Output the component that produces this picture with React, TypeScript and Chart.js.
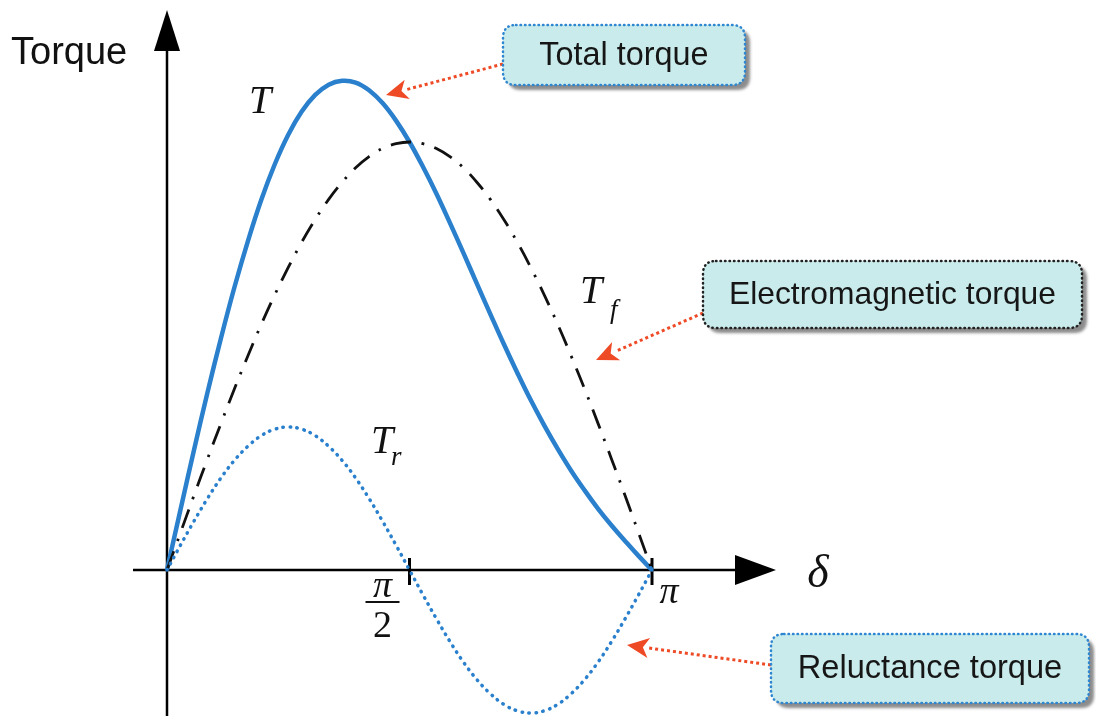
import React, { useEffect, useRef } from "react";
import { Chart, registerables } from "chart.js";

Chart.register(...registerables);

// load angle δ in degrees (0 … π)
const deltaDeg = [
  0, 5, 10, 15, 20, 25, 30, 35, 40, 45, 50, 55, 60, 65, 70, 75, 80, 85, 90,
  95, 100, 105, 110, 115, 120, 125, 130, 135, 140, 145, 150, 155, 160, 165, 170, 175, 180,
];
// total torque T
const totalTorque = [
  0, 0.141, 0.28, 0.414, 0.541, 0.66, 0.768, 0.865, 0.948, 1.017, 1.071, 1.11, 1.134, 1.143, 1.139, 1.121, 1.091, 1.05, 1.0,
  0.942, 0.879, 0.811, 0.741, 0.669, 0.598, 0.528, 0.461, 0.397, 0.338, 0.283, 0.232, 0.186, 0.143, 0.104, 0.068, 0.033, 0,
];
// electromagnetic (field) torque Tf
const fieldTorque = [
  0, 0.087, 0.174, 0.259, 0.342, 0.423, 0.5, 0.574, 0.643, 0.707, 0.766, 0.819, 0.866, 0.906, 0.94, 0.966, 0.985, 0.996, 1.0,
  0.996, 0.985, 0.966, 0.94, 0.906, 0.866, 0.819, 0.766, 0.707, 0.643, 0.574, 0.5, 0.423, 0.342, 0.259, 0.174, 0.087, 0,
];
// reluctance torque Tr
const reluctanceTorque = [
  0, 0.058, 0.114, 0.167, 0.215, 0.256, 0.289, 0.314, 0.329, 0.334, 0.329, 0.314, 0.289, 0.256, 0.215, 0.167, 0.114, 0.058, 0,
  -0.058, -0.114, -0.167, -0.215, -0.256, -0.289, -0.314, -0.329, -0.334, -0.329, -0.314, -0.289, -0.256, -0.215, -0.167, -0.114, -0.058, 0,
];
const xTickValues = [90, 180];

const BLUE = "#2a80cc";
const RED = "#ee4a26";

function roundRect(ctx: CanvasRenderingContext2D, x: number, y: number, w: number, h: number, r: number) {
  ctx.beginPath();
  ctx.moveTo(x + r, y);
  ctx.lineTo(x + w - r, y);
  ctx.quadraticCurveTo(x + w, y, x + w, y + r);
  ctx.lineTo(x + w, y + h - r);
  ctx.quadraticCurveTo(x + w, y + h, x + w - r, y + h);
  ctx.lineTo(x + r, y + h);
  ctx.quadraticCurveTo(x, y + h, x, y + h - r);
  ctx.lineTo(x, y + r);
  ctx.quadraticCurveTo(x, y, x + r, y);
  ctx.closePath();
}

function callout(
  ctx: CanvasRenderingContext2D,
  x: number, y: number, w: number, h: number,
  text: string, border: string, size: number,
  from: [number, number], to: [number, number]
) {
  // red dotted arrow
  ctx.save();
  ctx.strokeStyle = RED;
  ctx.fillStyle = RED;
  ctx.lineWidth = 3;
  ctx.setLineDash([3, 3]);
  const ang = Math.atan2(to[1] - from[1], to[0] - from[0]);
  const headLen = 22;
  const bx = to[0] - Math.cos(ang) * headLen;
  const by = to[1] - Math.sin(ang) * headLen;
  ctx.beginPath();
  ctx.moveTo(from[0], from[1]);
  ctx.lineTo(bx, by);
  ctx.stroke();
  ctx.setLineDash([]);
  const px = -Math.sin(ang), py = Math.cos(ang);
  const bx2 = to[0] - Math.cos(ang) * (headLen - 6);
  const by2 = to[1] - Math.sin(ang) * (headLen - 6);
  ctx.beginPath();
  ctx.moveTo(to[0], to[1]);
  ctx.lineTo(bx + px * 10, by + py * 10);
  ctx.lineTo(bx2, by2);
  ctx.lineTo(bx - px * 10, by - py * 10);
  ctx.closePath();
  ctx.fill();
  ctx.restore();

  // box with shadow
  ctx.save();
  ctx.shadowColor = "rgba(0,0,0,0.45)";
  ctx.shadowOffsetX = 5;
  ctx.shadowOffsetY = 5;
  ctx.shadowBlur = 3;
  roundRect(ctx, x, y, w, h, 13);
  ctx.fillStyle = "#c9ebeb";
  ctx.fill();
  ctx.restore();
  ctx.save();
  roundRect(ctx, x, y, w, h, 13);
  ctx.strokeStyle = border;
  ctx.lineWidth = 2.5;
  ctx.lineCap = "round";
  ctx.setLineDash([0.5, 4]);
  ctx.stroke();
  ctx.restore();

  ctx.save();
  ctx.fillStyle = "#161616";
  ctx.font = `${size}px "Liberation Sans", Arial, sans-serif`;
  ctx.textAlign = "center";
  ctx.textBaseline = "middle";
  ctx.fillText(text, x + w / 2, y + h / 2 + 1);
  ctx.restore();
}

const overlay = {
  id: "overlay",
  beforeDatasetsDraw(chart: any) {
    const ctx: CanvasRenderingContext2D = chart.ctx;
    const xs = chart.scales.x;
    const ys = chart.scales.y;
    const x0 = xs.getPixelForValue(0);
    const y0 = ys.getPixelForValue(0);
    ctx.save();
    ctx.strokeStyle = "#000";
    ctx.fillStyle = "#000";
    ctx.lineWidth = 2.5;
    // y axis
    ctx.beginPath();
    ctx.moveTo(x0, 716);
    ctx.lineTo(x0, 45);
    ctx.stroke();
    ctx.beginPath();
    ctx.moveTo(x0, 10);
    ctx.lineTo(x0 - 13, 51);
    ctx.lineTo(x0 + 13, 51);
    ctx.closePath();
    ctx.fill();
    // x axis
    ctx.beginPath();
    ctx.moveTo(133, y0);
    ctx.lineTo(740, y0);
    ctx.stroke();
    ctx.beginPath();
    ctx.moveTo(776, y0);
    ctx.lineTo(735, y0 - 15);
    ctx.lineTo(735, y0 + 15);
    ctx.closePath();
    ctx.fill();
    // ticks
    ctx.lineWidth = 3;
    xTickValues.forEach((v) => {
      const px = xs.getPixelForValue(v);
      ctx.beginPath();
      ctx.moveTo(px, y0 - 12);
      ctx.lineTo(px, y0 + 15);
      ctx.stroke();
    });
    ctx.restore();
  },
  afterDatasetsDraw(chart: any) {
    const ctx: CanvasRenderingContext2D = chart.ctx;
    const xs = chart.scales.x;
    const ys = chart.scales.y;
    const y0 = ys.getPixelForValue(0);
    const xHalf = xs.getPixelForValue(xTickValues[0]);
    const xPi = xs.getPixelForValue(xTickValues[1]);
    ctx.save();
    ctx.fillStyle = "#111";
    ctx.textAlign = "left";
    ctx.textBaseline = "alphabetic";
    ctx.font = `38px "Liberation Sans", Arial, sans-serif`;
    ctx.fillText("Torque", 11, 64);

    const serif = `"Liberation Serif", "Times New Roman", serif`;
    ctx.font = `italic 40px ${serif}`;
    ctx.fillText("T", 249, 113);
    ctx.fillText("T", 580, 303);
    ctx.fillText("T", 371, 453);
    ctx.font = `italic 27px ${serif}`;
    ctx.fillText("f", 610, 318);
    ctx.fillText("r", 391, 465);

    // π labels
    ctx.textAlign = "center";
    ctx.font = `italic 38px ${serif}`;
    ctx.fillText("π", xPi + 17, y0 + 33);
    ctx.fillText("π", xHalf - 27, y0 + 27);
    ctx.font = `38px ${serif}`;
    ctx.fillText("2", xHalf - 27, y0 + 67);
    ctx.fillRect(xHalf - 44, y0 + 31, 34, 2);
    ctx.font = `italic 46px ${serif}`;
    ctx.fillText("δ", 818, y0 + 17);
    ctx.restore();

    callout(ctx, 503, 25, 242, 60, "Total torque", "#2f86d1", 32.4, [503, 64], [386, 95]);
    callout(ctx, 703, 261, 379, 67, "Electromagnetic torque", "#222", 31.8, [703, 313], [596, 360]);
    callout(ctx, 771, 634, 318, 69, "Reluctance torque", "#2f86d1", 32.6, [771, 665], [627, 645]);
  },
};

export default function App() {
  const ref = useRef<HTMLCanvasElement | null>(null);
  useEffect(() => {
    if (!ref.current) return;
    const pxPerDeg = (652 - 167) / 180;
    const pxPerUnit = 570 - 142;
    const mk = (arr: number[]) => deltaDeg.map((d, i) => ({ x: d, y: arr[i] }));
    const chart = new Chart(ref.current, {
      type: "line",
      data: {
        datasets: [
          {
            label: "Tr",
            data: mk(reluctanceTorque),
            borderColor: BLUE,
            borderWidth: 3.5,
            borderDash: [0.5, 6.5],
            borderCapStyle: "round",
            pointRadius: 0,
            tension: 0.4,
            fill: false,
          },
          {
            label: "Tf",
            data: mk(fieldTorque),
            borderColor: "#111",
            borderWidth: 2.8,
            borderDash: [20, 11, 2.5, 11],
            pointRadius: 0,
            tension: 0.4,
            fill: false,
          },
          {
            label: "T",
            data: mk(totalTorque),
            borderColor: BLUE,
            borderWidth: 4.5,
            pointRadius: 0,
            tension: 0.4,
            fill: false,
          },
        ],
      },
      options: {
        responsive: false,
        animation: false,
        devicePixelRatio: 1,
        layout: { padding: 0 },
        plugins: { legend: { display: false }, tooltip: { enabled: false } },
        scales: {
          x: { type: "linear", display: false, min: -167 / pxPerDeg, max: (1096 - 167) / pxPerDeg },
          y: { type: "linear", display: false, min: -(717 - 570) / pxPerUnit, max: 570 / pxPerUnit },
        },
      } as any,
      plugins: [overlay],
    });
    return () => chart.destroy();
  }, []);
  return (
    <div style={{ position: "fixed", left: 0, top: 0, width: 1096, height: 717, background: "#fff" }}>
      <canvas ref={ref} width={1096} height={717} style={{ display: "block" }} />
    </div>
  );
}
